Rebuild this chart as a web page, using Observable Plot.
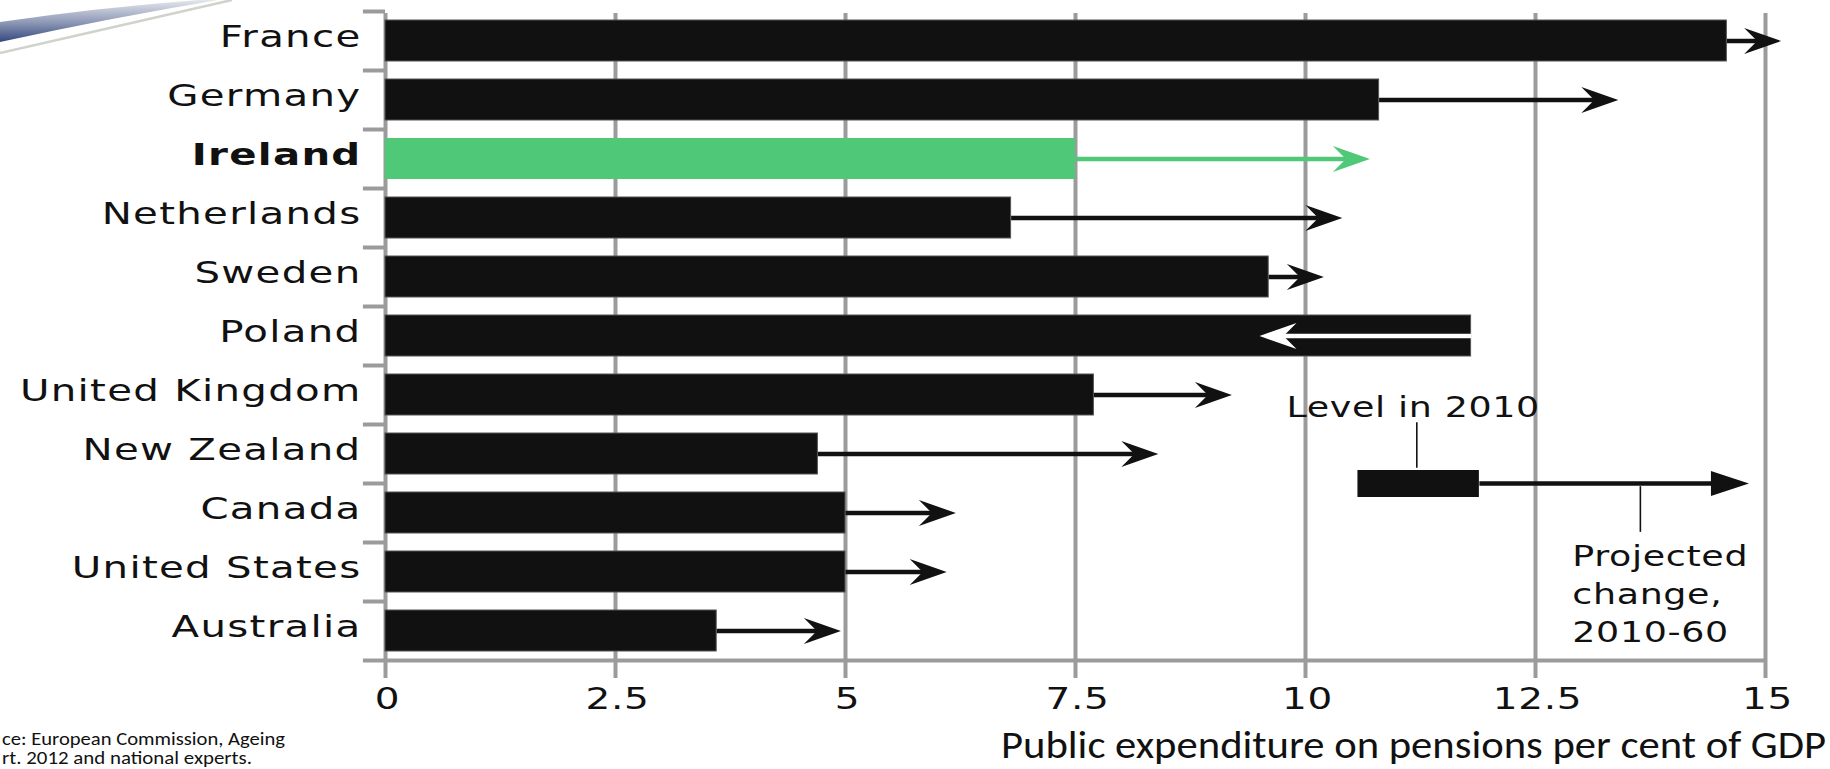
<!DOCTYPE html>
<html>
<head>
<meta charset="utf-8">
<script src="https://cdn.jsdelivr.net/npm/d3@7"></script>
<script src="https://cdn.jsdelivr.net/npm/@observablehq/plot@0.6"></script>
<style>
html, body { margin: 0; padding: 0; background: #fff; }
#wrap { position: relative; width: 1830px; height: 769px; overflow: hidden; background: #fff; }
#swoosh { position: absolute; left: 0; top: 0; }
#chart { position: absolute; left: 0; top: 0; }
#footer { position: absolute; left: 0; top: 720px; overflow: hidden; }
</style>
</head>
<body>
<div id="wrap">
  <svg id="swoosh" width="240" height="60">
    <defs>
      <linearGradient id="sw" x1="0" y1="0" x2="0" y2="1">
        <stop offset="0" stop-color="#e4e7ec"/>
        <stop offset="0.55" stop-color="#8b96b4"/>
        <stop offset="1" stop-color="#34487e"/>
      </linearGradient>
    </defs>
    <path d="M0,22 Q95,8 198,0 L218,0 Q110,18 0,42 Z" fill="url(#sw)"/>
    <path d="M0,53 Q120,26 232,0" fill="none" stroke="#cfd3c9" stroke-width="2.5"/>
  </svg>
  <div id="chart"></div>
  <svg id="footer" width="1830" height="49" font-family="Carlito, Calibri, 'Liberation Sans Narrow', Lato, sans-serif" fill="#111">
    <text x="2" y="25" font-size="19" textLength="283" lengthAdjust="spacingAndGlyphs">ce: European Commission, Ageing</text>
    <text x="2" y="44" font-size="18" textLength="250" lengthAdjust="spacingAndGlyphs">rt. 2012 and national experts.</text>
    <text x="1001" y="38" font-size="38" textLength="825" lengthAdjust="spacingAndGlyphs">Public expenditure on pensions per cent of GDP</text>
  </svg>
</div>
<script>
// ---- data ----
const countries = ["France", "Germany", "Ireland", "Netherlands", "Sweden", "Poland",
  "United Kingdom", "New Zealand", "Canada", "United States", "Australia"];
const level2010 = [14.58, 10.8, 7.5, 6.8, 9.6, 11.8, 7.7, 4.7, 5.0, 5.0, 3.6];
const level2060 = [15.17, 13.4, 10.7, 10.4, 10.2, 9.5, 9.2, 8.4, 6.2, 6.1, 4.95];
const xTicks = [0, 2.5, 5, 7.5, 10, 12.5, 15];
const xTickLabels = ["0", "2.5", "5", "7.5", "10", "12.5", "15"];
const highlight = "Ireland";
const legendLevel = [10.57, 11.89];
const legendChange = 14.82;
const legendLabels = ["Level in 2010", "Projected\nchange,\n2010-60"];

// ---- build ----
const BLACK = "#111111", GREEN = "#4fc878", GRID = "#9b9b9b";
const rows = countries.map((c, i) => ({country: c, start: level2010[i], end: level2060[i], hl: c === highlight}));
const HEAD_OFF = 0.2;
const lineEnd = d => d.end + (d.end >= d.start ? -HEAD_OFF : HEAD_OFF);

const stealth = {draw(ctx) { ctx.moveTo(0, 0); ctx.lineTo(-37, -13); ctx.lineTo(-24, 0); ctx.lineTo(-37, 13); ctx.closePath(); }};
const triangle = {draw(ctx) { ctx.moveTo(0, 0); ctx.lineTo(-38, -12.5); ctx.lineTo(-38, 12.5); ctx.closePath(); }};

const arrowColor = d => d.hl ? GREEN : (d.end < d.start ? "#ffffff" : BLACK);
const groups = d3.groups(rows, arrowColor);

const arrowMarks = [];
for (const [color, g] of groups) {
  const up = g.filter(d => d.end >= d.start), down = g.filter(d => d.end < d.start);
  arrowMarks.push(Plot.link(g, {x1: "start", x2: lineEnd, y1: "country", y2: "country", stroke: color, strokeWidth: 4.5}));
  if (up.length) arrowMarks.push(Plot.dot(up, {x: "end", y: "country", symbol: stealth, fill: color, stroke: "none"}));
  if (down.length) arrowMarks.push(Plot.dot(down, {x: "end", y: "country", symbol: stealth, fill: color, stroke: "none", rotate: 180}));
}

const legendRow = "New Zealand";
const legendBar = [{x1: legendLevel[0], x2: legendLevel[1], y: legendRow}];
const legendArrow = [{x1: legendLevel[1], x2: legendChange - 0.3, tip: legendChange, y: legendRow}];

const chart = Plot.plot({
  width: 1830, height: 720,
  marginLeft: 385, marginRight: 65, marginTop: 11, marginBottom: 60,
  x: {domain: [0, 15], axis: null},
  y: {domain: countries, paddingInner: 0.3, paddingOuter: 0.15, axis: null},
  style: {fontFamily: "'DejaVu Sans', Verdana, sans-serif", color: BLACK, background: "transparent", overflow: "visible"},
  marks: [
    Plot.ruleX(xTicks, {stroke: GRID, strokeWidth: 4, insetTop: 2, insetBottom: -18}),
    Plot.ruleY(countries, {y: d => d, x1: -0.24, x2: 0, dy: -29.5, stroke: GRID, strokeWidth: 4}),
    Plot.ruleY([countries[countries.length - 1]], {y: d => d, x1: -0.24, x2: 15, dy: 29.5, stroke: GRID, strokeWidth: 4}),
    Plot.barX(rows.filter(d => !d.hl), {y: "country", x1: 0, x2: "start", fill: BLACK, stroke: "#555", strokeWidth: 1}),
    Plot.barX(rows.filter(d => d.hl), {y: "country", x1: 0, x2: "start", fill: GREEN}),
    ...arrowMarks,
    // legend
    Plot.ruleY(legendBar, {y: "y", x1: "x1", x2: "x2", dy: 29.5, stroke: BLACK, strokeWidth: 27}),
    Plot.link(legendArrow, {x1: "x1", x2: "x2", y1: "y", y2: "y", dy: 29.5, stroke: BLACK, strokeWidth: 4.5}),
    Plot.dot(legendArrow, {x: "tip", y: "y", dy: 29.5, symbol: triangle, fill: BLACK, stroke: "none"}),
    Plot.tickX([{x: 11.21, y: "New Zealand"}], {x: "x", y: "y", insetTop: -10.85, insetBottom: 6.15, stroke: BLACK, strokeWidth: 1.6}),
    Plot.tickX([{x: 13.64, y: "Canada"}], {x: "x", y: "y", insetTop: -5.85, insetBottom: 1.15, stroke: BLACK, strokeWidth: 1.6}),
    Plot.text([{t: legendLabels[0], x: 11.17, y: "United Kingdom"}], {x: "x", y: "y", text: "t", dy: 13.5, fontSize: 28, textAnchor: "middle", lineAnchor: "middle", fill: BLACK}),
    Plot.text([{t: legendLabels[1], x: 12.90, y: "Canada"}], {x: "x", y: "y", text: "t", dy: 25.6, fontSize: 28, textAnchor: "start", lineAnchor: "top", lineHeight: 1.357, fill: BLACK}),
    // category labels
    Plot.text(countries.filter(c => c !== highlight), {x: 0, y: d => d, dx: -24, dy: -4.4, textAnchor: "end", lineAnchor: "middle", fontSize: 31, fill: BLACK}),
    Plot.text([highlight], {x: 0, y: d => d, dx: -24, dy: -4.4, textAnchor: "end", lineAnchor: "middle", fontSize: 31, fontWeight: "bold", fill: BLACK}),
    // x tick labels
    Plot.text(xTicks, {x: d => d, text: (d, i) => xTickLabels[i], frameAnchor: "bottom", lineAnchor: "top", dy: 27.2, dx: 2, fontSize: 30, textAnchor: "middle", fill: BLACK})
  ]
});

document.getElementById("chart").appendChild(chart);
// the original's Verdana-like lettering is horizontally stretched: widen each text about its anchor
const STRETCH = 1.3;
const spacing = {31: "1px", 28: "0.5px", 30: "0.5px"};
d3.select(chart).selectAll("text").each(function() {
  const fs = Math.round(parseFloat(getComputedStyle(this).fontSize));
  if (spacing[fs]) this.style.letterSpacing = spacing[fs];
  const t = this.getAttribute("transform");
  if (t) {
    this.setAttribute("transform", t + ` scale(${STRETCH},1)`);
  } else {
    const x = +(this.getAttribute("x") || 0), y = +(this.getAttribute("y") || 0);
    this.removeAttribute("x"); this.removeAttribute("y");
    this.setAttribute("transform", `translate(${x},${y}) scale(${STRETCH},1)`);
  }
});
</script>
</body>
</html>
